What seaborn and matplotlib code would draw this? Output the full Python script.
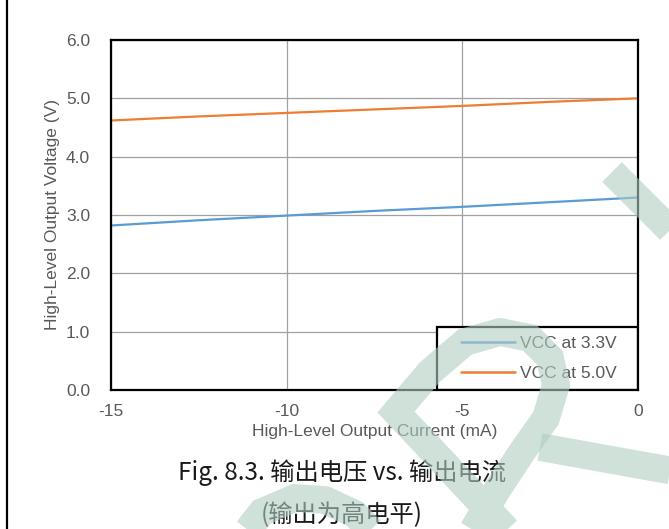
import numpy as np
import pandas as pd
import matplotlib
matplotlib.use("Agg")
import matplotlib.pyplot as plt
import matplotlib.transforms as mtransforms
from matplotlib.lines import Line2D
from matplotlib.patches import Rectangle
import seaborn as sns

# data
current_ma = [-15, -12.5, -10, -7.5, -5, -2.5, 0]
vout_33 = [2.82, 2.91, 2.99, 3.07, 3.14, 3.22, 3.30]
vout_50 = [4.62, 4.69, 4.75, 4.81, 4.87, 4.94, 5.00]
series_names = ["VCC at 3.3V", "VCC at 5.0V"]
series_colors = ["#5B9BD5", "#ED7D31"]
x_ticks = [-15, -10, -5, 0]
y_ticks = [0, 1, 2, 3, 4, 5, 6]
x_label = "High-Level Output Current (mA)"
y_label = "High-Level Output Voltage (V)"
caption_1 = "Fig. 8.3. 输出电压 vs. 输出电流"
caption_2 = "(输出为高电平)"

sns.set_style("white")
plt.rcParams["font.family"] = ["Liberation Sans", "DejaVu Sans"]
plt.rcParams["axes.unicode_minus"] = False

df = pd.DataFrame({
    "current": current_ma * 2,
    "voltage": vout_33 + vout_50,
    "series": [series_names[0]] * len(current_ma) + [series_names[1]] * len(current_ma),
})

W, H = 669, 529
fig = plt.figure(figsize=(W / 100, H / 100), dpi=100)
ax = fig.add_axes([111 / W, 1 - 390 / H, 527 / W, 350 / H])

sns.lineplot(data=df, x="current", y="voltage", hue="series",
             palette=series_colors, linewidth=1.6, ax=ax, legend=False, zorder=3)

grey = "#595959"
ax.set_xlim(-15, 0)
ax.set_ylim(0, 6)
ax.set_xticks(x_ticks)
ax.set_yticks(y_ticks)
ax.set_yticklabels([f"{v:.1f}" for v in y_ticks])
ax.tick_params(axis="both", length=0, labelsize=12.5, labelcolor=grey)
ax.tick_params(axis="y", pad=15)
ax.tick_params(axis="x", pad=10)
ax.grid(True, color="#a0a0a0", linewidth=0.9)
for sp in ax.spines.values():
    sp.set_color("black")
    sp.set_linewidth(1.6)
    sp.set_zorder(6)

ax.set_xlabel(x_label, fontsize=12.5, color=grey)
ax.set_ylabel(y_label, fontsize=12.5, color=grey)
ax.xaxis.set_label_coords(0.5, -0.097)
ax.yaxis.set_label_coords(-0.097, 0.5)

# legend box
box_x0 = (437 - 111) / 527
ax.add_patch(Rectangle((box_x0, 0), 1 - box_x0, 63 / 350, transform=ax.transAxes,
                       facecolor="white", edgecolor="black", linewidth=1.6, zorder=5))
handles = [Line2D([], [], color=c, linewidth=1.8) for c in series_colors]
leg = ax.legend(handles, series_names, loc="center right",
                bbox_to_anchor=(box_x0, 0, 1 - box_x0, 63 / 350),
                frameon=False, fontsize=12.5, labelcolor=grey,
                handlelength=3.1, handletextpad=0.3, labelspacing=0.85,
                borderpad=0, borderaxespad=1.2)
leg.set_zorder(7)

# caption
cap_font = ["Noto Sans CJK SC", "DejaVu Sans"]
fig.text(342 / W, 1 - 473 / H, caption_1, ha="center", va="center",
         fontsize=17.5, family=cap_font, color="#1a1a1a")
fig.text(342 / W, 1 - 515 / H, caption_2, ha="center", va="center",
         fontsize=17.5, family=cap_font, color="#1a1a1a")

# left page border
fig.add_artist(Line2D([7 / W, 7 / W], [0, 1], color="black", linewidth=1.6,
                      transform=fig.transFigure))

# faint watermark strokes (pixel coords of the page)
px = mtransforms.Affine2D().scale(1 / W, -1 / H).translate(0, 1) + fig.transFigure
wm_color = "#afcdc1"
strokes = [
    [(612, 172), (700, 260)],
    [(535, 560), (396, 412), (430, 372), (465, 342), (500, 332), (530, 338),
     (550, 358), (556, 385), (546, 418), (522, 452), (497, 490), (470, 535)],
    [(540, 447), (690, 474)],
    [(240, 540), (262, 512), (295, 498), (325, 500), (355, 514), (380, 540)],
]
for pts in strokes:
    xs, ys = zip(*pts)
    ln = Line2D(xs, ys, color=wm_color, alpha=0.6, linewidth=20,
                solid_capstyle="butt", solid_joinstyle="miter", transform=px, zorder=20)
    fig.add_artist(ln)

fig.savefig("out.png", dpi=100)
